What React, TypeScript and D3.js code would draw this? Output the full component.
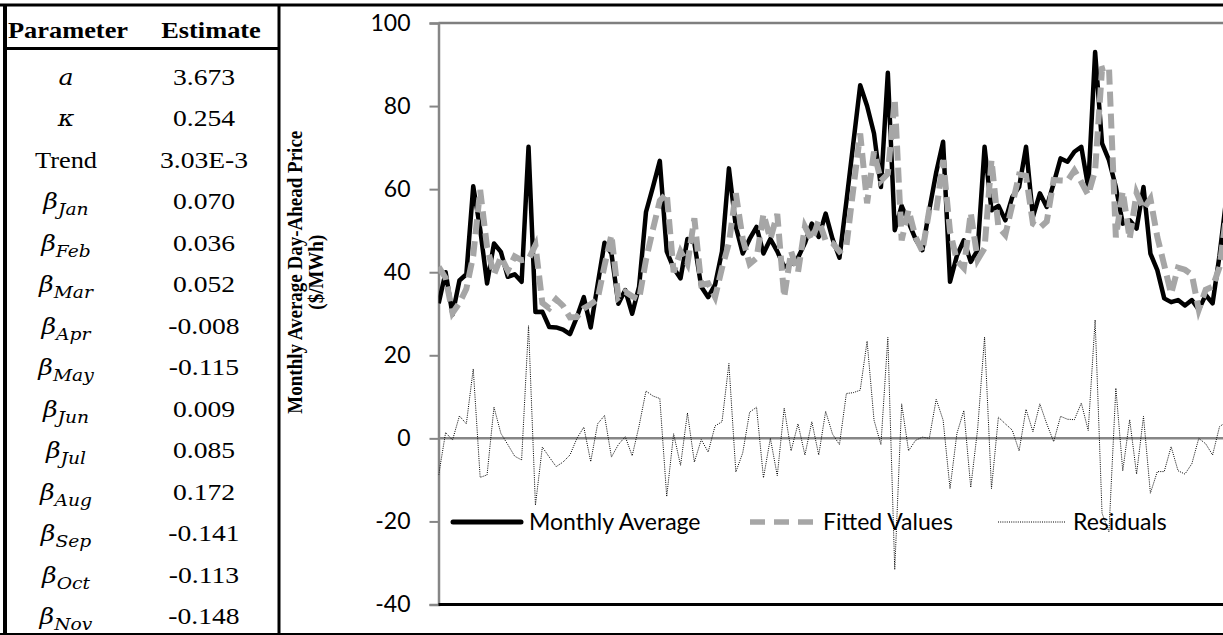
import React, { useEffect, useRef } from "react";
import * as d3 from "d3";

const W = 1223;
const H = 635;

// monthly average day-ahead price ($/MWh)
const actual = [
  32.5, 40, 29.8, 38, 39.5, 60.7, 50.4, 37.3, 46.9, 44.9, 38.9, 39.5, 37.7, 70.2, 30.4, 30.5,
  26.8, 26.7, 26.2, 25.1, 29.2, 34, 26.7, 37, 47.1, 44.5, 32.4, 35.7, 30, 36.5, 54.5, 60.5,
  66.8, 45, 41, 38.5, 48, 47, 36.5, 34, 37, 45, 65, 51, 44.5, 48, 50.9, 44.5,
  48, 45, 41.3, 42, 43.5, 47, 51.7, 48.5, 54.1, 48, 43.5, 57, 71, 85, 80, 73.4,
  60.5, 88, 50.1, 56, 52, 48, 45.3, 55, 64, 71.4, 37.7, 44, 47.7, 42.5, 45.3, 70.2,
  54.9, 56, 52.5, 58.1, 60.5, 70.2, 53.3, 59, 55.7, 61.4, 67.4, 66.6, 69, 70.2, 60.5, 93,
  71, 67, 60.5, 51.7, 52.5, 50.5, 60.5, 44.5, 40.5, 33.7, 32.8, 33.3, 32, 33.3, 31, 34.5,
  32.5, 44, 58,
];

const fitted = [
  41.3, 38.6, 30.2, 32.6, 36, 44, 59.8, 46, 39.4, 43.7, 40.4, 43.8, 42.9, 43.1, 46.5, 32.6,
  31.3, 33.5, 31.9, 29.1, 29.2, 31.3, 32.3, 33.5, 41.6, 49, 33.9, 35.3, 34.2, 33.5, 43, 50.3,
  57.2, 59, 40, 45, 42, 53, 37, 37.3, 34, 41, 47, 59, 48, 42, 43.4, 54,
  48, 54, 34, 45, 40, 51, 47.7, 52.5, 47.6, 47, 45, 46.2, 60, 73.4, 56.6, 69,
  62, 63.7, 81.7, 47.7, 55, 48.5, 45, 55, 54.6, 67, 49.8, 42.8, 41, 54.3, 43, 45.8,
  67, 50.9, 49, 56.1, 63.5, 63.2, 51.7, 50.7, 52.2, 62.2, 62.1, 62, 64.5, 61.7, 58.6, 64.5,
  89, 89.5, 48.4, 59.5, 48, 59.1, 55.2, 57.7, 48.5, 41.7, 34.8, 41.1, 40.6, 39.4, 31, 35.8,
  36.5, 41.2, 54,
];

const residuals = [
  -8.8, 1.4, -0.4, 5.4, 3.5, 16.7, -9.4, -8.8, 7.5, 1.2, -1.5, -4.3, -5.2, 27.1, -16.1, -2.1,
  -4.5, -6.8, -5.7, -4, 0, 2.7, -5.6, 3.5, 5.5, -4.5, -1.5, 0.4, -4.2, 3, 11.4, 10.2,
  9.6, -14, 1.1, -6.5, 6.1, -5.7, -0.3, -3.3, 3, 4, 18, -8.1, -3.5, 6.3, 7.5, -9.5,
  0, -9, 7.3, -3, 3.5, -4, 4, -4, 6.5, 1, -1.5, 10.8, 11, 11.6, 23.4, 4.4,
  -1.5, 24.3, -31.6, 8.3, -3, -0.5, 0.3, 0, 9.4, 4.4, -12.1, 1.2, 6.7, -11.8, 2.3, 24.4,
  -12.1, 5.1, 3.5, 2, -3, 7, 1.6, 8.3, 3.5, -0.8, 5.3, 4.6, 4.5, 8.5, 1.9, 28.5,
  -18, -22.5, 12.1, -7.8, 4.5, -8.6, 5.3, -13.2, -8, -8, -2, -7.8, -8.6, -6.1, 0, -1.3,
  -4, 2.8, 4,
];

const yTicks = [-40, -20, 0, 20, 40, 60, 80, 100];
const legendLabels = ["Monthly Average", "Fitted Values", "Residuals"];

// parameter table
const paramNames = ["a", "κ", "Trend", "β", "β", "β", "β", "β", "β", "β", "β", "β", "β", "β"];
const paramSubs = ["", "", "", "Jan", "Feb", "Mar", "Apr", "May", "Jun", "Jul", "Aug", "Sep", "Oct", "Nov"];
const estimates = [
  "3.673", "0.254", "3.03E-3", "0.070", "0.036", "0.052", "-0.008",
  "-0.115", "0.009", "0.085", "0.172", "-0.141", "-0.113", "-0.148",
];

const serif = "'Liberation Serif', 'Times New Roman', serif";
const mathFont = "'DejaVu Serif', serif";
const sans = "Lato, 'Open Sans', sans-serif";

export default function App() {
  const svgRef = useRef<SVGSVGElement>(null);

  useEffect(() => {
    const svg = d3.select(svgRef.current);
    svg.selectAll("*").remove();

    svg.append("rect").attr("width", W).attr("height", H).attr("fill", "#fff");

    // ---- table on the left (the scan is a bit wider than tall, so text is stretched)
    const rowY = (k: number) => 84.5 + 41.5 * k;
    const stretched = (cx: number, cy: number, sx: number) =>
      svg.append("text").attr("transform", `translate(${cx},${cy}) scale(${sx},1)`)
        .attr("text-anchor", "middle");

    stretched(68, 38, 1.1).style("font-family", serif).style("font-weight", "bold")
      .style("font-size", "24px").text("Parameter");
    stretched(211, 38, 1.1).style("font-family", serif).style("font-weight", "bold")
      .style("font-size", "24px").text("Estimate");

    paramNames.forEach((name, k) => {
      const t = stretched(66, rowY(k), 1.1);
      if (name === "Trend") {
        t.style("font-family", serif).style("font-size", "24px").text(name);
      } else {
        t.style("font-family", mathFont).style("font-style", "italic").style("font-size", "23px");
        t.append("tspan").text(name);
        if (paramSubs[k]) {
          t.append("tspan").attr("dy", 6).style("font-size", "17px").text(paramSubs[k]);
        }
      }
    });

    estimates.forEach((v, k) => {
      stretched(204, rowY(k), 1.15).style("font-family", serif).style("font-size", "24px").text(v);
    });

    // frame lines of the document table
    const frame = svg.append("g").attr("stroke", "#000");
    frame.append("line").attr("x1", 0).attr("x2", W).attr("y1", 5).attr("y2", 5).attr("stroke-width", 3);
    frame.append("line").attr("x1", 5).attr("x2", 5).attr("y1", 4).attr("y2", H).attr("stroke-width", 4);
    frame.append("line").attr("x1", 279).attr("x2", 279).attr("y1", 4).attr("y2", H).attr("stroke-width", 3);
    frame.append("line").attr("x1", 4).attr("x2", 280).attr("y1", 48.5).attr("y2", 48.5).attr("stroke-width", 3);
    frame.append("line").attr("x1", 0).attr("x2", W).attr("y1", 634).attr("y2", 634).attr("stroke-width", 2);

    // ---- chart
    const x = d3.scaleLinear().domain([0, 113]).range([438.7, 1219.5]);
    const y = d3.scaleLinear().domain([-40, 100]).range([604.5, 23]);
    const axisX = 438.5;

    const clipId = "plotClip";
    svg.append("clipPath").attr("id", clipId)
      .append("rect").attr("x", axisX).attr("y", 0).attr("width", W - axisX).attr("height", H);

    // y axis title, two lines
    ["Monthly Average Day-Ahead Price", "($/MWh)"].forEach((s, k) => {
      svg.append("text")
        .attr("transform", `translate(${302 + k * 21}, ${y(40)}) rotate(-90) scale(1,1.15)`)
        .attr("text-anchor", "middle")
        .style("font-family", serif).style("font-weight", "bold").style("font-size", "19px")
        .text(s);
    });

    // plot border, zero line
    svg.append("line").attr("x1", axisX).attr("x2", W).attr("y1", y(100)).attr("y2", y(100))
      .attr("stroke", "#7f7f7f").attr("stroke-width", 2.5);
    svg.append("line").attr("x1", axisX).attr("x2", W).attr("y1", y(0)).attr("y2", y(0))
      .attr("stroke", "#868686").attr("stroke-width", 2.5);

    const axis = svg.append("g").attr("transform", `translate(${axisX},0)`)
      .call(d3.axisLeft(y).tickValues(yTicks).tickSize(9).tickPadding(19).tickFormat(d => String(d)));
    axis.select(".domain").attr("stroke", "#868686").attr("stroke-width", 2.5);
    axis.selectAll(".tick line").attr("stroke", "#868686").attr("stroke-width", 2);
    axis.selectAll(".tick text")
      .style("font-family", sans).style("font-size", "23px").attr("fill", "#000");

    const plot = svg.append("g").attr("clip-path", `url(#${clipId})`);
    const line = d3.line<number>().x((_, i) => x(i)).y(d => y(d));

    plot.append("path").datum(actual).attr("d", line).attr("fill", "none")
      .attr("stroke", "#000").attr("stroke-width", 4.5).attr("stroke-linejoin", "round");
    plot.append("path").datum(fitted).attr("d", line).attr("fill", "none")
      .attr("stroke", "#a6a6a6").attr("stroke-width", 6).attr("stroke-dasharray", "15 7");
    plot.append("path").datum(residuals).attr("d", line).attr("fill", "none")
      .attr("stroke", "#000").attr("stroke-width", 1).attr("stroke-dasharray", "1 1.2");

    svg.append("line").attr("x1", axisX).attr("x2", W).attr("y1", y(-40)).attr("y2", y(-40))
      .attr("stroke", "#000").attr("stroke-width", 3);

    // ---- legend
    const ly = 522;
    const leg = svg.append("g");
    leg.append("line").attr("x1", 453).attr("x2", 521).attr("y1", ly).attr("y2", ly)
      .attr("stroke", "#000").attr("stroke-width", 5).attr("stroke-linecap", "round");
    leg.append("line").attr("x1", 750).attr("x2", 815).attr("y1", ly).attr("y2", ly)
      .attr("stroke", "#a6a6a6").attr("stroke-width", 5.5).attr("stroke-dasharray", "15 9");
    leg.append("line").attr("x1", 998).attr("x2", 1066).attr("y1", ly).attr("y2", ly)
      .attr("stroke", "#000").attr("stroke-width", 1).attr("stroke-dasharray", "1 1.2");
    [529, 823, 1073].forEach((lx, k) => {
      leg.append("text").attr("x", lx).attr("y", 530)
        .style("font-family", sans).style("font-size", "23px").text(legendLabels[k]);
    });
  }, []);

  return (
    <div style={{ position: "fixed", left: 0, top: 0, width: W, height: H, background: "#fff" }}>
      <svg ref={svgRef} width={W} height={H} />
    </div>
  );
}
